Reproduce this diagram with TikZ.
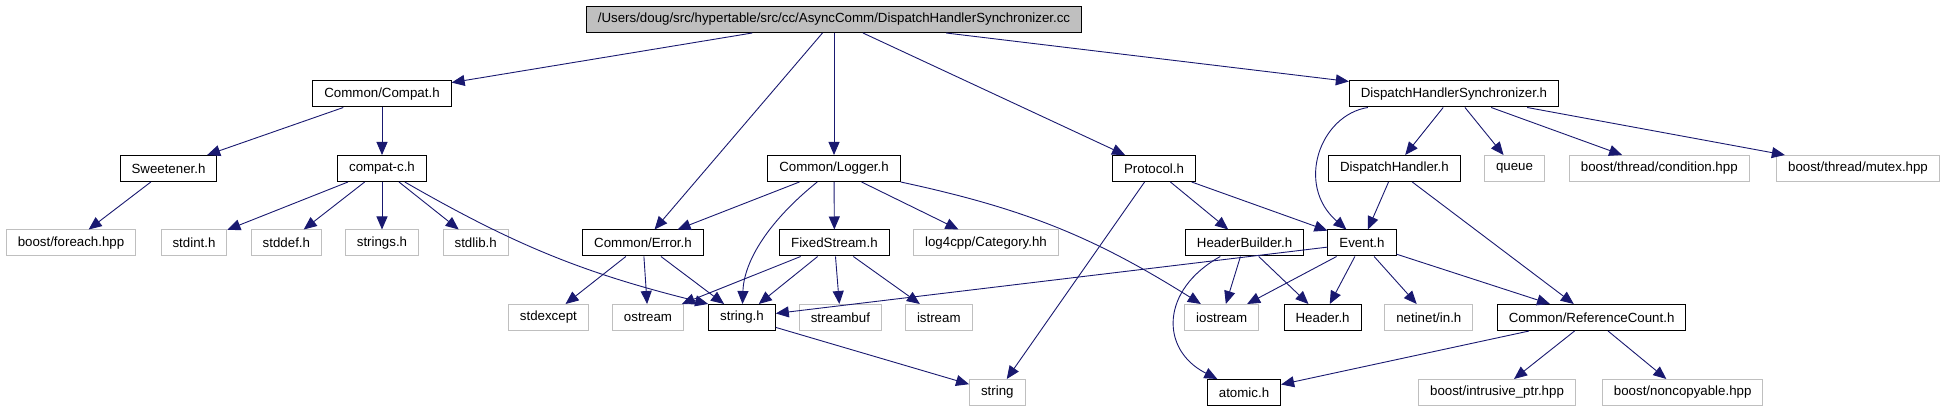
\documentclass[tikz,border=0pt]{standalone}
\usepackage{fontspec}
\setmainfont{Liberation Sans}
\usepackage{xcolor}
\usepackage{tikz}
\usetikzlibrary{arrows.meta,positioning}
\definecolor{edgeblue}{RGB}{25,25,112}
\definecolor{leafgray}{RGB}{191,191,191}

\begin{document}
\begin{tikzpicture}[x=1pt, y=-1pt,
      hdr/.style={rectangle, draw=black, line width=1pt, minimum height=26pt, inner xsep=11.5pt, inner ysep=0pt, font=\fontsize{13.3}{15}\selectfont},
      sysfile/.style={hdr, draw=leafgray},
      srcfile/.style={hdr, fill=leafgray},
      inc/.style={-{Triangle[length=13pt,width=11pt]}, line width=0.9pt, color=edgeblue}
    ]
      \useasboundingbox (0,0) rectangle (1945,411);
      \node[srcfile] (cc) at (834,19.5) {/Users/doug/src/hypertable/src/cc/AsyncComm/DispatchHandlerSynchronizer.cc};
      \node[hdr] (compat) at (382,94) {Common/Compat.h};
      \node[hdr] (dhs) at (1454,94) {DispatchHandlerSynchronizer.h};
      \node[hdr] (sweet) at (168.5,168.5) {Sweetener.h};
      \node[hdr] (compatc) at (382,168.5) {compat-c.h};
      \node[hdr] (logger) at (834,168.5) {Common/Logger.h};
      \node[hdr] (protocol) at (1154,168.5) {Protocol.h};
      \node[hdr] (dh) at (1394.4,168.5) {DispatchHandler.h};
      \node[sysfile] (queue) at (1514.5,168.5) {queue};
      \node[sysfile] (cond) at (1659.3,168.5) {boost/thread/condition.hpp};
      \node[sysfile] (mutex) at (1858,168.5) {boost/thread/mutex.hpp};
      \node[sysfile] (foreach) at (71,243) {boost/foreach.hpp};
      \node[sysfile] (stdint) at (194,243) {stdint.h};
      \node[sysfile] (stddef) at (286.4,243) {stddef.h};
      \node[sysfile] (strings) at (382,243) {strings.h};
      \node[sysfile] (stdlib) at (475.7,243) {stdlib.h};
      \node[hdr] (error) at (643,243) {Common/Error.h};
      \node[hdr] (fixed) at (834.4,243) {FixedStream.h};
      \node[sysfile] (category) at (986,243) {log4cpp/Category.hh};
      \node[hdr] (hbuilder) at (1244.6,243) {HeaderBuilder.h};
      \node[hdr] (event) at (1362,243) {Event.h};
      \node[sysfile] (stdexcept) at (548.4,317.5) {stdexcept};
      \node[sysfile] (ostream) at (648,317.5) {ostream};
      \node[hdr] (stringh) at (742,317.5) {string.h};
      \node[sysfile] (streambuf) at (840.4,317.5) {streambuf};
      \node[sysfile] (istream) at (938.8,317.5) {istream};
      \node[sysfile] (iostream) at (1221.7,317.5) {iostream};
      \node[hdr] (header) at (1322.6,317.5) {Header.h};
      \node[sysfile] (netinet) at (1428.8,317.5) {netinet/in.h};
      \node[hdr] (refcount) at (1591.6,317.5) {Common/ReferenceCount.h};
      \node[sysfile] (string) at (997.3,392.5) {string};
      \node[hdr] (atomic) at (1244,392.5) {atomic.h};
      \node[sysfile] (intrusive) at (1497,392.5) {boost/intrusive\_ptr.hpp};
      \node[sysfile] (noncopy) at (1682.7,392.5) {boost/noncopyable.hpp};
      \draw[inc] (cc) -- (compat);
      \draw[inc] (cc) -- (error);
      \draw[inc] (cc) -- (logger);
      \draw[inc] (cc) -- (protocol);
      \draw[inc] (cc) -- (dhs);
      \draw[inc] (compat) -- (sweet);
      \draw[inc] (compat) -- (compatc);
      \draw[inc] (sweet) -- (foreach);
      \draw[inc] (compatc) -- (stdint);
      \draw[inc] (compatc) -- (stddef);
      \draw[inc] (compatc) -- (strings);
      \draw[inc] (compatc) -- (stdlib);
      \draw[inc] (compatc) to[bend right=8] (stringh.north west);
      \draw[inc] (error) -- (stdexcept);
      \draw[inc] (error) -- (ostream);
      \draw[inc] (error) -- (stringh);
      \draw[inc] (logger) -- (error);
      \draw[inc] (logger) .. controls (770,220) and (744,260) .. (stringh);
      \draw[inc] (logger) -- (fixed);
      \draw[inc] (logger) -- (category);
      \draw[inc] (logger.south east) to[bend left=10] (iostream);
      \draw[inc] (fixed) -- (ostream);
      \draw[inc] (fixed) -- (stringh);
      \draw[inc] (fixed) -- (streambuf);
      \draw[inc] (fixed) -- (istream);
      \draw[inc] (stringh) -- (string);
      \draw[inc] (protocol) -- (string);
      \draw[inc] (protocol) -- (hbuilder);
      \draw[inc] (protocol) -- (event);
      \draw[inc] (hbuilder) .. controls (1160,290) and (1160,350) .. (atomic);
      \draw[inc] (hbuilder) -- (iostream);
      \draw[inc] (hbuilder) -- (header);
      \draw[inc] (event) -- (stringh);
      \draw[inc] (event) -- (iostream);
      \draw[inc] (event) -- (header);
      \draw[inc] (event) -- (netinet);
      \draw[inc] (event) -- (refcount);
      \draw[inc] (dhs) .. controls (1320,115) and (1295,185) .. (event);
      \draw[inc] (dhs) -- (dh);
      \draw[inc] (dhs) -- (queue);
      \draw[inc] (dhs) -- (cond);
      \draw[inc] (dhs) -- (mutex);
      \draw[inc] (dh) -- (event);
      \draw[inc] (dh) -- (refcount);
      \draw[inc] (refcount) -- (atomic);
      \draw[inc] (refcount) -- (intrusive);
      \draw[inc] (refcount) -- (noncopy);
    \end{tikzpicture}
\end{document}
